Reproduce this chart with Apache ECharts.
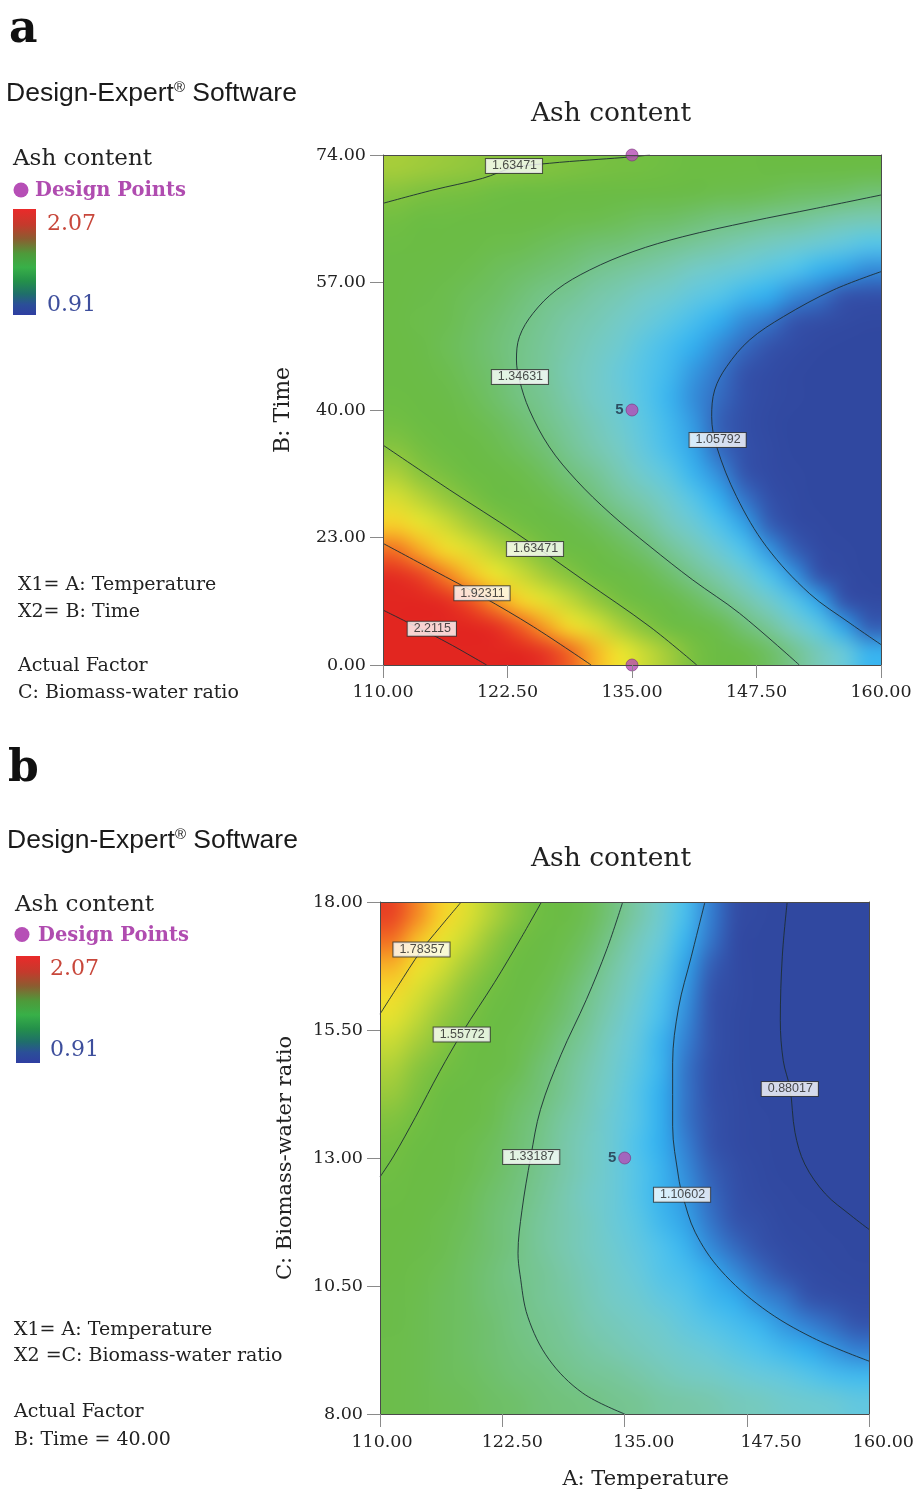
<!DOCTYPE html>
<html>
<head>
<meta charset="utf-8">
<script src="https://cdn.jsdelivr.net/npm/echarts@6/dist/echarts.min.js"></script>
<style>
html,body{margin:0;padding:0;background:#fff}
#chart{width:917px;height:1496px}
</style>
</head>
<body>
<div id="chart"></div>
<script>
// ---------------- tick labels ----------------
const tempTicks = [110, 122.5, 135, 147.5, 160];
// panel a: the five Time labels sit at equal steps (0..4) on the drawn axis
const timeSteps = [0, 1, 2, 3, 4];
const timeLabels = ['0.00', '23.00', '40.00', '57.00', '74.00'];
const ratioTicks = [8, 10.5, 13, 15.5, 18];

// ---------------- heat-map cell centres ----------------
const cellTemp = [111.25,113.75,116.25,118.75,121.25,123.75,126.25,128.75,131.25,133.75,136.25,138.75,141.25,143.75,146.25,148.75,151.25,153.75,156.25,158.75];
const cellTime = [0.1,0.3,0.5,0.7,0.9,1.1,1.3,1.5,1.7,1.9,2.1,2.3,2.5,2.7,2.9,3.1,3.3,3.5,3.7,3.9];
const cellRatio = [8.25,8.75,9.25,9.75,10.25,10.75,11.25,11.75,12.25,12.75,13.25,13.75,14.25,14.75,15.25,15.75,16.25,16.75,17.25,17.75];

// ---------------- estimated ash content, panel a (rows bottom -> top) ----------------
const ashTime = [
[2.40,2.33,2.26,2.20,2.13,2.06,1.99,1.93,1.86,1.79,1.72,1.66,1.59,1.52,1.46,1.39,1.32,1.25,1.19,1.12],
[2.26,2.20,2.13,2.07,2.01,1.94,1.88,1.81,1.75,1.68,1.62,1.56,1.49,1.43,1.36,1.30,1.23,1.17,1.10,1.04],
[2.14,2.08,2.02,1.95,1.89,1.83,1.77,1.71,1.65,1.59,1.53,1.46,1.40,1.34,1.28,1.22,1.16,1.10,1.03,0.97],
[2.02,1.97,1.91,1.85,1.79,1.73,1.67,1.62,1.56,1.50,1.44,1.38,1.32,1.27,1.21,1.15,1.09,1.03,0.97,0.92],
[1.92,1.87,1.81,1.76,1.70,1.65,1.59,1.53,1.48,1.42,1.37,1.31,1.26,1.20,1.15,1.09,1.04,0.98,0.93,0.87],
[1.83,1.78,1.73,1.67,1.62,1.57,1.52,1.46,1.41,1.36,1.31,1.25,1.20,1.15,1.10,1.04,0.99,0.94,0.89,0.84],
[1.75,1.70,1.65,1.60,1.55,1.50,1.45,1.40,1.35,1.30,1.26,1.21,1.16,1.11,1.06,1.01,0.96,0.91,0.86,0.81],
[1.68,1.63,1.59,1.54,1.49,1.45,1.40,1.35,1.31,1.26,1.21,1.17,1.12,1.08,1.03,0.98,0.94,0.89,0.84,0.80],
[1.62,1.58,1.53,1.49,1.44,1.40,1.36,1.31,1.27,1.23,1.18,1.14,1.10,1.05,1.01,0.97,0.92,0.88,0.84,0.79],
[1.57,1.53,1.49,1.45,1.41,1.37,1.33,1.29,1.25,1.21,1.17,1.13,1.09,1.04,1.00,0.96,0.92,0.88,0.84,0.80],
[1.53,1.49,1.46,1.42,1.38,1.34,1.31,1.27,1.23,1.20,1.16,1.12,1.08,1.05,1.01,0.97,0.93,0.90,0.86,0.82],
[1.50,1.47,1.44,1.40,1.37,1.33,1.30,1.26,1.23,1.19,1.16,1.13,1.09,1.06,1.02,0.99,0.95,0.92,0.89,0.85],
[1.49,1.46,1.42,1.39,1.36,1.33,1.30,1.27,1.24,1.21,1.17,1.14,1.11,1.08,1.05,1.02,0.99,0.95,0.92,0.89],
[1.48,1.45,1.43,1.40,1.37,1.34,1.31,1.28,1.26,1.23,1.20,1.17,1.14,1.11,1.08,1.06,1.03,1.00,0.97,0.94],
[1.49,1.46,1.44,1.41,1.39,1.36,1.33,1.31,1.28,1.26,1.23,1.21,1.18,1.16,1.13,1.11,1.08,1.06,1.03,1.01],
[1.50,1.48,1.46,1.44,1.41,1.39,1.37,1.35,1.32,1.30,1.28,1.26,1.23,1.21,1.19,1.17,1.15,1.12,1.10,1.08],
[1.53,1.51,1.49,1.47,1.45,1.43,1.41,1.39,1.37,1.36,1.34,1.32,1.30,1.28,1.26,1.24,1.22,1.20,1.18,1.16],
[1.57,1.55,1.53,1.52,1.50,1.49,1.47,1.45,1.44,1.42,1.40,1.39,1.37,1.35,1.34,1.32,1.31,1.29,1.27,1.26],
[1.62,1.60,1.59,1.58,1.56,1.55,1.54,1.52,1.51,1.50,1.48,1.47,1.46,1.44,1.43,1.42,1.40,1.39,1.38,1.36],
[1.67,1.66,1.65,1.64,1.63,1.62,1.61,1.60,1.59,1.58,1.57,1.56,1.55,1.54,1.53,1.52,1.51,1.50,1.49,1.48]
];

// ---------------- estimated ash content, panel b (rows bottom -> top) ----------------
const ashRatio = [
[1.45,1.43,1.42,1.41,1.39,1.38,1.36,1.35,1.34,1.32,1.31,1.29,1.28,1.27,1.25,1.24,1.22,1.21,1.20,1.18],
[1.45,1.43,1.41,1.40,1.38,1.36,1.35,1.33,1.31,1.30,1.28,1.26,1.24,1.23,1.21,1.19,1.18,1.16,1.14,1.13],
[1.45,1.43,1.41,1.39,1.37,1.35,1.33,1.31,1.29,1.27,1.25,1.23,1.21,1.19,1.17,1.15,1.13,1.11,1.09,1.07],
[1.46,1.43,1.41,1.39,1.37,1.34,1.32,1.30,1.27,1.25,1.23,1.21,1.18,1.16,1.14,1.12,1.09,1.07,1.05,1.03],
[1.46,1.44,1.41,1.39,1.36,1.34,1.31,1.29,1.26,1.23,1.21,1.18,1.16,1.13,1.11,1.08,1.06,1.03,1.00,0.98],
[1.48,1.45,1.42,1.39,1.36,1.33,1.31,1.28,1.25,1.22,1.19,1.16,1.14,1.11,1.08,1.05,1.02,0.99,0.96,0.94],
[1.49,1.46,1.43,1.40,1.37,1.34,1.30,1.27,1.24,1.21,1.18,1.15,1.12,1.08,1.05,1.02,0.99,0.96,0.93,0.90],
[1.51,1.48,1.44,1.41,1.37,1.34,1.30,1.27,1.24,1.20,1.17,1.13,1.10,1.06,1.03,1.00,0.96,0.93,0.89,0.86],
[1.53,1.49,1.46,1.42,1.38,1.35,1.31,1.27,1.23,1.20,1.16,1.12,1.09,1.05,1.01,0.97,0.94,0.90,0.86,0.83],
[1.56,1.52,1.48,1.44,1.40,1.36,1.32,1.28,1.24,1.20,1.16,1.12,1.08,1.04,1.00,0.96,0.92,0.88,0.83,0.79],
[1.58,1.54,1.50,1.45,1.41,1.37,1.33,1.28,1.24,1.20,1.15,1.11,1.07,1.03,0.98,0.94,0.90,0.85,0.81,0.77],
[1.61,1.57,1.52,1.48,1.43,1.38,1.34,1.29,1.25,1.20,1.16,1.11,1.06,1.02,0.97,0.93,0.88,0.83,0.79,0.74],
[1.65,1.60,1.55,1.50,1.45,1.40,1.36,1.31,1.26,1.21,1.16,1.11,1.06,1.01,0.97,0.92,0.87,0.82,0.77,0.72],
[1.68,1.63,1.58,1.53,1.48,1.43,1.37,1.32,1.27,1.22,1.17,1.12,1.06,1.01,0.96,0.91,0.86,0.81,0.75,0.70],
[1.72,1.67,1.62,1.56,1.51,1.45,1.40,1.34,1.29,1.23,1.18,1.12,1.07,1.02,0.96,0.91,0.85,0.80,0.74,0.69],
[1.77,1.71,1.65,1.60,1.54,1.48,1.42,1.37,1.31,1.25,1.19,1.14,1.08,1.02,0.96,0.91,0.85,0.79,0.73,0.68],
[1.81,1.75,1.69,1.63,1.57,1.51,1.45,1.39,1.33,1.27,1.21,1.15,1.09,1.03,0.97,0.91,0.85,0.79,0.73,0.67],
[1.86,1.80,1.74,1.67,1.61,1.55,1.48,1.42,1.36,1.29,1.23,1.17,1.10,1.04,0.98,0.91,0.85,0.79,0.72,0.66],
[1.92,1.85,1.78,1.72,1.65,1.58,1.52,1.45,1.39,1.32,1.25,1.19,1.12,1.06,0.99,0.92,0.86,0.79,0.72,0.66],
[1.97,1.90,1.83,1.76,1.69,1.63,1.56,1.49,1.42,1.35,1.28,1.21,1.14,1.07,1.00,0.94,0.87,0.80,0.73,0.66]
];

// ---------------- contour lines, panel a  [Temperature, Time step] ----------------
const contA_163471_top = [[110,3.621],[115,3.725],[120,3.817],[123.05,3.9],[126.7,3.935],[130.75,3.961],[134.1,3.98],[136.8,4.0]];
const contA_134631 = [[160,3.686],[153.5,3.582],[146.8,3.477],[140.1,3.359],[135.1,3.242],[130.75,3.098],[127.4,2.941],[125.06,2.758],[123.7,2.575],[123.4,2.392],[123.7,2.235],[124.7,2.0],[126.7,1.71],[129.4,1.45],[132.8,1.19],[136.8,0.93],[141.1,0.667],[145.8,0.405],[151.8,0]];
const contA_105792 = [[160,3.085],[155.2,2.941],[150.2,2.732],[146.8,2.549],[144.5,2.34],[143.3,2.157],[143.0,1.948],[143.5,1.712],[145.5,1.32],[148.5,0.928],[152.8,0.562],[156.9,0.327],[160,0.16]];
const contA_163471_low = [[110,1.725],[116.7,1.373],[123.4,1.033],[130.1,0.667],[136.8,0.30],[141.5,0]];
const contA_192311 = [[110,0.954],[115,0.745],[120,0.535],[125.1,0.30],[130.9,0]];
const contA_22115 = [[110,0.431],[113.35,0.30],[116.7,0.165],[120.4,0]];
const labelsA = [['1.63471',123.15,3.914],['1.34631',123.75,2.259],['1.05792',143.6,1.765],['1.63471',125.26,0.91],['1.92311',119.94,0.562],['2.2115',114.9,0.285]];
const designA = [[135,4,''],[135,2,'5'],[135,0,'']];

// ---------------- contour lines, panel b  [Temperature, Biomass-water ratio] ----------------
const contB_178357 = [[118.3,18],[116.1,17.5],[114.2,17.05],[111.8,16.35],[110,15.81]];
const contB_155772 = [[126.5,18],[124.3,17.26],[121.7,16.43],[118.4,15.45],[116.1,14.69],[113.6,13.79],[111.4,13.04],[110,12.63]];
const contB_133187 = [[134.8,18],[133.2,17.09],[131.1,16.1],[128.5,15.02],[126.4,13.95],[125.4,13.02],[124.5,11.97],[124.1,11.14],[124.3,10.73],[125.1,9.9],[127.25,9.07],[130.7,8.41],[135,8]];
const contB_110602 = [[143.2,18],[141.8,16.93],[140.5,15.93],[139.9,14.86],[139.9,13.62],[140.5,12.63],[140.9,12.28],[142.2,11.55],[144.8,10.81],[149.1,10.07],[154.2,9.49],[160,9.03]];
const contB_088017 = [[151.6,18],[151.1,16.93],[150.9,15.69],[151.2,14.9],[151.9,14.35],[152.4,13.5],[153.4,12.88],[155.5,12.3],[158.1,11.88],[160,11.6]];
const labelsB = [['1.78357',114.24,17.07],['1.55772',118.35,15.41],['1.33187',125.45,13.02],['1.10602',140.86,12.28],['0.88017',151.87,14.35]];
const designB = [[135,13,'5']];

// ---------------- styles ----------------
const SERIF = "'DejaVu Serif', serif";
const SANS = "'Liberation Sans', Arial, sans-serif";
const FRAME = '#4a4a4a';
const TICK = '#8a8a8a';
const INK = '#222';
const palette = ['#3048a0','#3149a1','#324ca5','#3456ae','#3480d2','#33aeee','#4fc2ec','#68c9da','#74cac6','#78c8ae','#76c594','#72c27c','#6ebf64','#6cbd50','#6bbc47','#6bbc44','#6cbd43','#78c041','#8ac53e','#a6cd3a','#c2d836','#dade31','#eee32d','#f7d02a','#f7aa26','#f37c23','#ed5123','#e63724','#e32b22','#e22620'];

const chart = echarts.init(document.getElementById('chart'), null, {renderer: 'canvas', width: 917, height: 1496});

function heatData(xs, ys, vals) {
  const out = [];
  for (let j = 0; j < ys.length; j++) for (let i = 0; i < xs.length; i++) out.push([xs[i], ys[j], vals[j][i]]);
  return out;
}
// every cell takes its colour from the visualMap (api.visual) and its place from the axes (api.coord);
// the cells are gathered into one bitmap that the browser draws smoothly over the cell area
function cellRenderer(xs, ys) {
  const nx = xs.length, ny = ys.length;
  const sx = xs[1] - xs[0], sy = ys[1] - ys[0];
  const cvs = document.createElement('canvas');
  cvs.width = nx; cvs.height = ny;
  const ctx = cvs.getContext('2d');
  const big = document.createElement('canvas');
  return function (params, api) {
    const k = params.dataIndexInside;
    const i = k % nx, j = Math.floor(k / nx);
    ctx.fillStyle = api.visual('color');
    ctx.fillRect(i, ny - 1 - j, 1, 1);
    if (k !== params.dataInsideLength - 1) return null;
    const p0 = api.coord([xs[0] - sx / 2, ys[ny - 1] + sy / 2]);
    const p1 = api.coord([xs[nx - 1] + sx / 2, ys[0] - sy / 2]);
    const w = Math.max(1, Math.round(p1[0] - p0[0])), h = Math.max(1, Math.round(p1[1] - p0[1]));
    big.width = w; big.height = h;
    const bctx = big.getContext('2d');
    bctx.imageSmoothingEnabled = true;
    bctx.imageSmoothingQuality = 'high';
    bctx.drawImage(cvs, 0, 0, w, h);
    return {type: 'image', style: {image: big, x: p0[0], y: p0[1], width: p1[0] - p0[0], height: p1[1] - p0[1]}};
  };
}

const series = [];
const heatIdx = [];
function addPanel(g, xs, ys, vals, contours, labels, design) {
  heatIdx.push(series.length);
  series.push({
    type: 'custom', xAxisIndex: g * 2, yAxisIndex: g * 2, coordinateSystem: 'cartesian2d',
    renderItem: cellRenderer(xs, ys), data: heatData(xs, ys, vals),
    encode: {x: 0, y: 1}, silent: true, z: 1, progressive: 0
  });
  contours.forEach(pts => series.push({
    type: 'line', xAxisIndex: g * 2, yAxisIndex: g * 2, data: pts,
    showSymbol: false, symbol: 'none', smooth: 0.35, silent: true, z: 3,
    lineStyle: {color: '#1d2d33', width: 1, opacity: 0.9}
  }));
  series.push({
    type: 'scatter', xAxisIndex: g * 2, yAxisIndex: g * 2, silent: true, z: 4,
    symbolSize: 1, itemStyle: {color: 'transparent'},
    data: labels.map(l => ({name: l[0], value: [l[1], l[2]]})),
    label: {show: true, position: 'inside', formatter: '{b}', fontFamily: SANS, fontSize: 12.5,
      color: '#222', backgroundColor: '#fff', borderColor: '#333', borderWidth: 1,
      padding: [1, 5, 0, 6], lineHeight: 13}
  });
  series.push({
    type: 'scatter', xAxisIndex: g * 2, yAxisIndex: g * 2, silent: true, z: 5, clip: false,
    symbolSize: 12, itemStyle: {color: '#b44cb4', borderColor: '#7d327d', borderWidth: 0.8},
    data: design.map(d => ({value: [d[0], d[1]], label: {show: d[2] !== '', formatter: d[2]}})),
    label: {position: 'left', distance: 2, fontFamily: SANS, fontWeight: 'bold', fontSize: 15, color: '#1e2e44'}
  });
}
addPanel(0, cellTemp, cellTime, ashTime,
  [contA_163471_top, contA_134631, contA_105792, contA_163471_low, contA_192311, contA_22115], labelsA, designA);
addPanel(1, cellTemp, cellRatio, ashRatio,
  [contB_178357, contB_155772, contB_133187, contB_110602, contB_088017], labelsB, designB);

const tickFont = {fontFamily: SERIF, fontSize: 17.5, color: INK};
function frameAxis(g, min, max, position) {
  return {type: 'value', gridIndex: g, min, max, position, z: 10,
    axisLine: {show: true, onZero: false, lineStyle: {color: FRAME, width: 1}},
    axisTick: {show: false}, axisLabel: {show: false}, splitLine: {show: false}};
}
const bShift = [4, 20, 38, 48, 28];
const bRich = {};
bShift.forEach((p, i) => { bRich['t' + i] = Object.assign({padding: [0, 0, 0, p]}, tickFont); });

const xAxes = [
  {type: 'value', gridIndex: 0, min: 110, max: 160, position: 'bottom', z: 10,
    axisLine: {show: true, onZero: false, lineStyle: {color: FRAME, width: 1}},
    axisTick: {show: true, length: 13, customValues: tempTicks, lineStyle: {color: TICK}},
    axisLabel: Object.assign({customValues: tempTicks, margin: 18, formatter: v => v.toFixed(2)}, tickFont),
    splitLine: {show: false}},
  frameAxis(0, 110, 160, 'top'),
  {type: 'value', gridIndex: 1, min: 110, max: 160, position: 'bottom', z: 10,
    axisLine: {show: true, onZero: false, lineStyle: {color: FRAME, width: 1}},
    axisTick: {show: true, length: 13, customValues: tempTicks, lineStyle: {color: TICK}},
    axisLabel: Object.assign({customValues: tempTicks, margin: 19, rich: bRich,
      formatter: v => '{t' + tempTicks.indexOf(v) + '|' + v.toFixed(2) + '}'}, tickFont),
    name: 'A: Temperature', nameLocation: 'middle', nameGap: 55,
    nameTextStyle: {fontFamily: SERIF, fontSize: 21, color: INK, padding: [0, 0, 0, 42]},
    splitLine: {show: false}},
  frameAxis(1, 110, 160, 'top')
];
const yAxes = [
  {type: 'value', gridIndex: 0, min: 0, max: 4, interval: 1, position: 'left', z: 10,
    axisLine: {show: true, onZero: false, lineStyle: {color: FRAME, width: 1}},
    axisTick: {show: true, length: 13, lineStyle: {color: TICK}},
    axisLabel: Object.assign({margin: 17, formatter: v => timeLabels[timeSteps.indexOf(Math.round(v))]}, tickFont),
    name: 'B: Time', nameLocation: 'middle', nameGap: 89, nameRotate: 90,
    nameTextStyle: {fontFamily: SERIF, fontSize: 22, color: INK},
    splitLine: {show: false}},
  frameAxis(0, 0, 4, 'right'),
  {type: 'value', gridIndex: 1, min: 8, max: 18, position: 'left', z: 10,
    axisLine: {show: true, onZero: false, lineStyle: {color: FRAME, width: 1}},
    axisTick: {show: true, length: 13, customValues: ratioTicks, lineStyle: {color: TICK}},
    axisLabel: Object.assign({customValues: ratioTicks, margin: 17, formatter: v => v.toFixed(2)}, tickFont),
    name: 'C: Biomass-water ratio', nameLocation: 'middle', nameGap: 84, nameRotate: 90,
    nameTextStyle: {fontFamily: SERIF, fontSize: 21, color: INK},
    splitLine: {show: false}},
  frameAxis(1, 8, 18, 'right')
];

// ---------------- side texts ----------------
function txt(x, y, text, font, fill, align) {
  return {type: 'text', x, y, z: 20, silent: true,
    style: {text, font, fill, align: align || 'left', verticalAlign: 'middle'}};
}
function brand(x, y) {
  return {type: 'text', x, y, z: 20, silent: true,
    style: {text: '{m|Design-Expert}{r|®}{m| Software}', verticalAlign: 'middle', align: 'left',
      rich: {m: {font: '26.5px ' + SANS, fill: '#1a1a1a'},
             r: {font: '15px ' + SANS, fill: '#1a1a1a', verticalAlign: 'top'}}}};
}
function bar(x, y, w, h) {
  return {type: 'rect', z: 20, silent: true, shape: {x, y, width: w, height: h},
    style: {fill: new echarts.graphic.LinearGradient(0, 0, 0, 1, [
      {offset: 0, color: '#ea2a2a'}, {offset: 0.15, color: '#c43a2c'}, {offset: 0.28, color: '#8c5c30'},
      {offset: 0.42, color: '#4e9a3a'}, {offset: 0.55, color: '#38b048'}, {offset: 0.68, color: '#24904a'},
      {offset: 0.8, color: '#1f6f6a'}, {offset: 0.9, color: '#2b4f98'}, {offset: 1, color: '#2f3ea2'}])}};
}
function legend(o) {
  return [
    brand(o.bx, o.by),
    txt(o.ax, o.ay, 'Ash content', '23px ' + SERIF, INK),
    {type: 'circle', z: 20, silent: true, shape: {cx: o.cx, cy: o.cy, r: 7.5}, style: {fill: '#b64fb6'}},
    txt(o.dx, o.dy, 'Design Points', 'bold 19.5px ' + SERIF, '#b04cb0'),
    bar(o.rx, o.ry, o.rw, o.rh),
    txt(o.lx, o.hy, '2.07', '22px ' + SERIF, '#c8473b'),
    txt(o.lx, o.ly, '0.91', '22px ' + SERIF, '#3d4e9c')
  ];
}
const bodyFont = '19px ' + SERIF;
const graphics = [].concat(
  [txt(9, 31, 'a', 'bold 44px ' + SERIF, '#111'),
   txt(611, 114, 'Ash content', '26.5px ' + SERIF, INK, 'center')],
  legend({bx: 6, by: 93.5, ax: 13, ay: 159, cx: 21, cy: 190, dx: 35, dy: 190.5, rx: 13, ry: 209, rw: 23, rh: 106, lx: 47, hy: 224.5, ly: 305.5}),
  [txt(18, 585.5, 'X1= A: Temperature', bodyFont, INK),
   txt(18, 612.5, 'X2= B: Time', bodyFont, INK),
   txt(18, 666.5, 'Actual Factor', bodyFont, INK),
   txt(18, 693.5, 'C: Biomass-water ratio', bodyFont, INK)],
  [txt(8, 770, 'b', 'bold 44px ' + SERIF, '#111'),
   txt(611, 859, 'Ash content', '26.5px ' + SERIF, INK, 'center')],
  legend({bx: 7, by: 841, ax: 15, ay: 905, cx: 22, cy: 934.5, dx: 38, dy: 935.5, rx: 16, ry: 956, rw: 24, rh: 107, lx: 50, hy: 969.5, ly: 1050.5}),
  [txt(14, 1330.5, 'X1= A: Temperature', bodyFont, INK),
   txt(14, 1356.5, 'X2 =C: Biomass-water ratio', bodyFont, INK),
   txt(14, 1412.5, 'Actual Factor', bodyFont, INK),
   txt(14, 1440.5, 'B: Time = 40.00', bodyFont, INK)]
);

chart.setOption({
  animation: false,
  backgroundColor: '#fff',
  grid: [
    {left: 383, top: 155, width: 498, height: 510},
    {left: 380, top: 902, width: 490, height: 512}
  ],
  xAxis: xAxes,
  yAxis: yAxes,
  visualMap: {type: 'continuous', show: false, min: 0.91, max: 2.07, dimension: 2,
    seriesIndex: heatIdx, inRange: {color: palette}},
  graphic: {elements: graphics},
  series
});
</script>
</body>
</html>
